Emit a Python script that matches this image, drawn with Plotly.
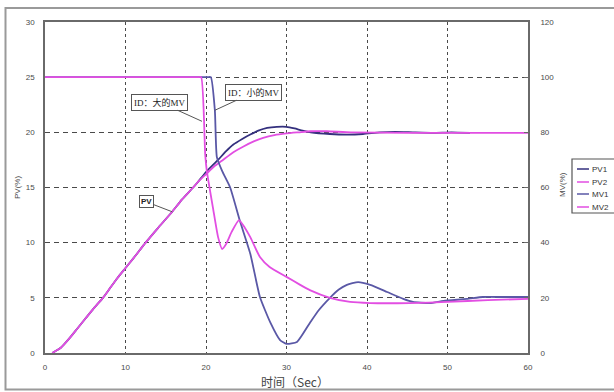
import plotly.graph_objects as go

# ---------------- data ----------------
t_pv1 = [0.9, 2, 3, 4, 5, 6, 7.2, 8, 9, 10, 11, 12.5, 14, 15.8, 17, 18.4, 19, 20, 21.5, 22.5,
         23.4, 24.5, 25.5, 26.5, 27.6, 28.8, 30, 31, 32, 33, 35.4, 37.5, 39.5, 41.6, 43.5,
         45.7, 48.2, 50.5, 52.8]
pv1 = [0, 0.5, 1.3, 2.2, 3.1, 4.0, 5.0, 5.8, 6.8, 7.7, 8.6, 10.0, 11.3, 12.8, 13.9, 15.0, 15.5,
       16.4, 17.5, 18.3, 18.9, 19.4, 19.8, 20.15, 20.4, 20.5, 20.5, 20.35, 20.15, 20.0, 19.85,
       19.8, 19.85, 20.0, 20.05, 20.0, 19.95, 20.0, 19.95]

t_pv2 = [0.9, 2, 3, 4, 5, 6, 7.2, 8, 9, 10, 11, 12.5, 14, 15.8, 17, 18.4, 19, 20, 21, 22.1,
         23.4, 24.6, 26, 27.1, 28.5, 30, 31.5, 33, 35, 38, 45, 60]
pv2 = [0, 0.5, 1.3, 2.2, 3.1, 4.0, 5.0, 5.8, 6.8, 7.7, 8.6, 10.0, 11.3, 12.8, 13.9, 15.0, 15.5,
       16.2, 16.9, 17.5, 18.2, 18.7, 19.2, 19.5, 19.75, 19.9, 20.0, 20.1, 20.1, 20.0, 19.95, 19.95]

t_mv1 = [0, 20.2, 20.6, 21.1, 21.35, 22.0, 23.0, 24.2, 25.5, 26.7, 28.0, 29.2, 30.0, 31.3, 32.9,
         34.0, 35.4, 36.5, 37.5, 38.9, 40.4, 42.5, 44.5, 45.7, 47.8, 49.5, 52.4, 54.4, 56.9, 60]
mv1 = [100, 100, 100, 88, 71, 66, 60, 48, 36, 20.3, 11, 4.7, 3.3, 4.0, 10.9, 15.5, 20, 23, 24.7,
       25.7, 24.7, 22.1, 19.6, 18.5, 18.1, 18.9, 19.6, 20.3, 20.3, 20.3]

t_mv2 = [0, 19.0, 19.4, 19.9, 20.1, 20.9, 21.5, 22.0, 22.5, 23.2, 24.1, 24.8, 25.5, 26.7, 27.9,
         30.0, 31.7, 32.9, 35.4, 37.9, 40.4, 45.3, 50.0, 55.0, 60]
mv2 = [100, 100, 100, 72, 66, 52, 42, 37.7, 39.5, 44, 48.2, 45.5, 42, 34.8, 31.2, 27.6, 24.7,
       22.8, 20, 18.5, 18.1, 18.1, 18.5, 19.2, 19.6]

x_ticks = [0, 10, 20, 30, 40, 50, 60]
pv_ticks = [0, 5, 10, 15, 20, 25, 30]
mv_ticks = [0, 20, 40, 60, 80, 100, 120]
series_names = ["PV1", "PV2", "MV1", "MV2"]

# ---------------- styling ----------------
W, H = 614, 392
L, R, T, B = 45, 528, 22, 353
C_PV1 = "#34307e"
C_MV1 = "#5a58a6"
C_MAG = "#e24ee2"
AXC = "#6a6a6a"
GRID = "#4a4a4a"
TXT = "#4a4a4a"
SM = 0.5

def px(xp):
    return (xp - L) / (R - L)

def py(yp):
    return (B - yp) / (B - T)

fig = go.Figure()
fig.add_trace(go.Scatter(x=t_mv1, y=mv1, name="MV1", yaxis="y2", mode="lines",
                         line=dict(color=C_MV1, width=1.8, shape="spline", smoothing=SM)))
fig.add_trace(go.Scatter(x=t_pv1, y=pv1, name="PV1", mode="lines",
                         line=dict(color=C_PV1, width=1.8, shape="spline", smoothing=SM)))
fig.add_trace(go.Scatter(x=t_mv2, y=mv2, name="MV2", yaxis="y2", mode="lines",
                         line=dict(color=C_MAG, width=1.8, shape="spline", smoothing=SM)))
fig.add_trace(go.Scatter(x=t_pv2, y=pv2, name="PV2", mode="lines",
                         line=dict(color=C_MAG, width=1.8, shape="spline", smoothing=SM)))

tickfont = dict(family="Liberation Sans, Arial", size=8, color=TXT)

fig.update_layout(
    width=W, height=H,
    margin=dict(l=L, r=W - R, t=T, b=H - B),
    paper_bgcolor="white", plot_bgcolor="white",
    showlegend=False,
    xaxis=dict(range=[0, 60], tickvals=x_ticks, showgrid=True, gridcolor=GRID, gridwidth=1.4,
               griddash="3px,3px", zeroline=False, showline=True, linecolor=AXC, linewidth=1.6,
               mirror=True, ticks="", tickfont=tickfont, ticklabelstandoff=6),
    yaxis=dict(range=[0, 30], tickvals=pv_ticks, showgrid=True, gridcolor=GRID, gridwidth=1.4,
               griddash="5px,4px", zeroline=False, showline=True, linecolor=AXC, linewidth=1.6,
               ticks="", tickfont=tickfont, ticklabelstandoff=7),
    yaxis2=dict(range=[0, 120], tickvals=mv_ticks, overlaying="y", side="right", showgrid=False,
                zeroline=False, showline=True, linecolor=AXC, linewidth=1.6, ticks="inside",
                ticklen=4, tickwidth=1.4, tickcolor=AXC, tickfont=tickfont, ticklabelstandoff=9),
)

shapes = []
# outer frame of the picture
shapes.append(dict(type="rect", xref="paper", yref="paper", x0=px(5.5), y0=py(389.5),
                   x1=px(700), y1=py(8), line=dict(color="#9a9a9a", width=2),
                   fillcolor="rgba(0,0,0,0)", layer="below"))
# custom legend box
shapes.append(dict(type="rect", xref="paper", yref="paper", x0=px(572), y0=py(213),
                   x1=px(640), y1=py(159), line=dict(color="#555555", width=1.2),
                   fillcolor="white"))
legend_colors = [C_PV1, C_MAG, C_MV1, C_MAG]
legend_y = [169, 182, 194, 207]
annotations = []
for name, col, yy in zip(series_names, legend_colors, legend_y):
    shapes.append(dict(type="line", xref="paper", yref="paper", x0=px(577), x1=px(589),
                       y0=py(yy), y1=py(yy), line=dict(color=col, width=1.5)))
    annotations.append(dict(xref="paper", yref="paper", x=px(590), y=py(yy), text=name,
                            showarrow=False, xanchor="left", yanchor="middle",
                            font=dict(family="Liberation Sans, Arial", size=8, color="#333")))

# axis titles
annotations.append(dict(xref="paper", yref="paper", x=px(17), y=py(188), text="PV(%)",
                        textangle=-90, showarrow=False, xanchor="center", yanchor="middle",
                        font=dict(family="Liberation Sans, Arial", size=8, color=TXT)))
annotations.append(dict(xref="paper", yref="paper", x=px(562), y=py(185), text="MV(%)",
                        textangle=-90, showarrow=False, xanchor="center", yanchor="middle",
                        font=dict(family="Liberation Sans, Arial", size=8, color=TXT)))
annotations.append(dict(xref="paper", yref="paper", x=px(295), y=py(381), text="时间（Sec）",
                        showarrow=False, xanchor="center", yanchor="middle",
                        font=dict(family="Noto Sans CJK SC", size=12, color="#444")))

# callouts
callfont = dict(family="Liberation Serif, Noto Sans CJK SC", size=9, color="#222")
annotations.append(dict(x=19.5, y=21.0, xref="x", yref="y", text="ID：大的MV", showarrow=True,
                        arrowhead=0, arrowwidth=1, arrowcolor="#555", ax=-42, ay=-19,
                        bgcolor="white", bordercolor="#555", borderwidth=1, borderpad=2,
                        font=callfont))
annotations.append(dict(x=21.1, y=22.0, xref="x", yref="y", text="ID：小的MV", showarrow=True,
                        arrowhead=0, arrowwidth=1, arrowcolor="#555", ax=39, ay=-18,
                        bgcolor="white", bordercolor="#555", borderwidth=1, borderpad=2,
                        font=callfont))
annotations.append(dict(x=15.8, y=12.8, xref="x", yref="y", text="<b>PV</b>", showarrow=True,
                        arrowhead=0, arrowwidth=1, arrowcolor="#555", ax=-26, ay=-10,
                        bgcolor="white", bordercolor="#555", borderwidth=1, borderpad=1,
                        font=dict(family="Liberation Sans, Arial", size=8, color="#222")))

fig.update_layout(shapes=shapes, annotations=annotations)
fig.write_html("out.html")
